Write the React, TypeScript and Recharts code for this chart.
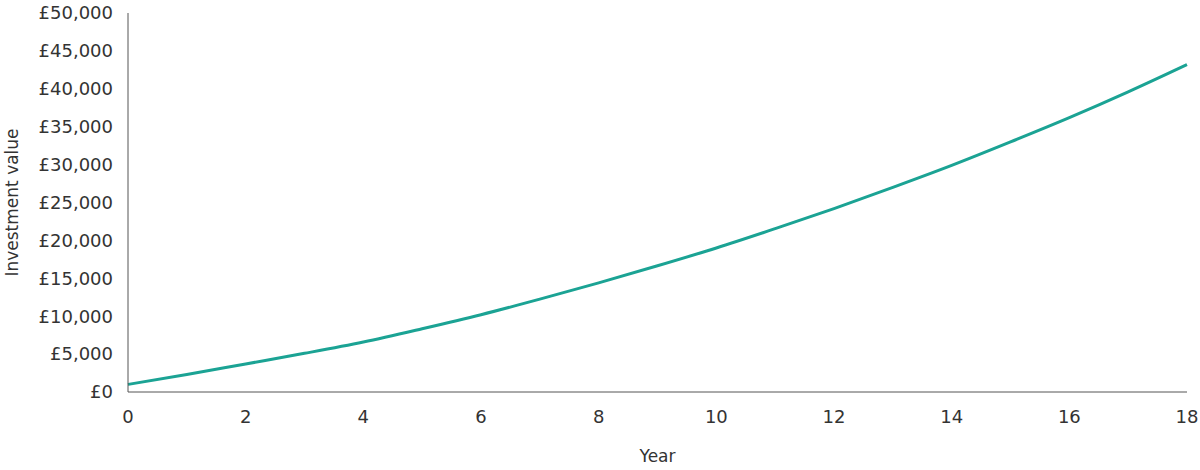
import React from 'react';
import { LineChart, Line, XAxis, YAxis } from 'recharts';

const years = [0, 1, 2, 3, 4, 5, 6, 7, 8, 9, 10, 11, 12, 13, 14, 15, 16, 17, 18];
const values = [1000, 2300, 3700, 5100, 6600, 8350, 10200, 12250, 14400, 16650, 19000, 21550, 24200, 27000, 29900, 33000, 36200, 39600, 43200];
const xTicks = [0, 2, 4, 6, 8, 10, 12, 14, 16, 18];
const yTicks = [0, 5000, 10000, 15000, 20000, 25000, 30000, 35000, 40000, 45000, 50000];

const data = years.map((year, i) => ({ year, value: values[i] }));

const font = 'DejaVu Sans, sans-serif';
const tickStyle = { fontSize: 18, fill: '#333', fontFamily: font };
const labelStyle = { fontSize: 17, fill: '#333', fontFamily: font };

const formatPounds = (v: number) => '£' + v.toLocaleString('en-GB');

const App = () => {
  return (
    <div style={{ position: 'absolute', left: 0, top: 0, background: '#fff' }}>
      <LineChart
        width={1200}
        height={470}
        data={data}
        margin={{ top: 13, right: 13, left: 0, bottom: 0 }}
      >
        <XAxis
          dataKey="year"
          type="number"
          domain={[0, 18]}
          ticks={xTicks}
          tickLine={false}
          tickMargin={12}
          height={78}
          stroke="#555"
          tick={tickStyle}
          label={{ value: 'Year', position: 'insideBottom', offset: 8, style: labelStyle }}
        />
        <YAxis
          type="number"
          domain={[0, 50000]}
          ticks={yTicks}
          tickFormatter={formatPounds}
          tickLine={false}
          tickMargin={9}
          width={128}
          stroke="#555"
          tick={tickStyle}
          label={{ value: 'Investment value', angle: -90, position: 'insideLeft', offset: 12, style: { ...labelStyle, textAnchor: 'middle' } }}
        />
        <Line
          isAnimationActive={false}
          type="monotone"
          dataKey="value"
          stroke="#1ba394"
          strokeWidth={3}
          dot={false}
        />
      </LineChart>
    </div>
  );
};

export default App;
